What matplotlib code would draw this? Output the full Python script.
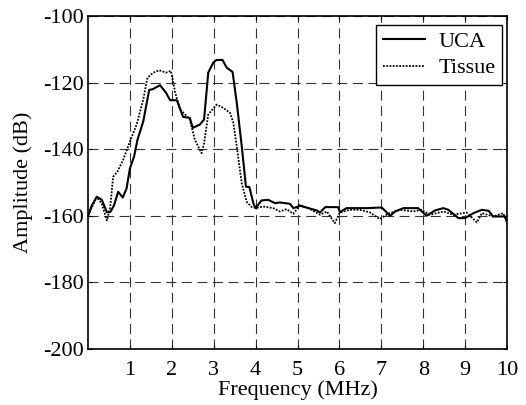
import numpy as np
import matplotlib
matplotlib.use("Agg")
import matplotlib.pyplot as plt

plt.rcParams["font.family"] = ["Liberation Serif", "DejaVu Serif"]
plt.rcParams["axes.unicode_minus"] = False

# UCA (solid)
uca_f = [0.0, 0.09, 0.21, 0.33, 0.45, 0.53, 0.62, 0.72, 0.83, 0.92, 1.0, 1.10, 1.18, 1.32,
         1.46, 1.54, 1.72, 1.86, 1.96, 2.12, 2.27, 2.43, 2.50, 2.67, 2.77, 2.87, 2.99, 3.07,
         3.21, 3.31, 3.45, 3.55, 3.67, 3.77, 3.85, 3.95, 4.0, 4.14, 4.30, 4.46, 4.58, 4.82,
         4.90, 5.06, 5.26, 5.46, 5.54, 5.66, 5.97, 6.01, 6.17, 6.41, 6.65, 7.01, 7.21, 7.33,
         7.53, 7.88, 8.08, 8.28, 8.48, 8.60, 8.84, 9.0, 9.20, 9.40, 9.56, 9.67, 9.95, 10.0]
uca_db = [-160, -156.9, -154.3, -155.2, -158.9, -158.9, -156.9, -152.8, -154.5, -151.8,
          -145.8, -142.2, -137.2, -131.6, -122.2, -122.0, -120.8, -123.0, -125.3, -125.3,
          -130.3, -130.6, -133.6, -132.6, -131.1, -117.0, -114.0, -113.2, -113.2, -115.5,
          -116.8, -126.0, -139.2, -151.3, -151.3, -156.4, -157.7, -155.4, -155.2, -156.2,
          -156.0, -156.4, -157.7, -157.0, -157.7, -158.4, -159.0, -157.4, -157.4, -158.9,
          -157.7, -157.7, -157.7, -157.5, -160.0, -158.7, -157.7, -157.7, -160.0, -158.4,
          -157.7, -158.2, -160.7, -160.7, -159.2, -158.2, -158.5, -160.2, -160.2, -161.7]

# Tissue (dotted)
tis_f = [0.0, 0.21, 0.33, 0.45, 0.53, 0.60, 0.70, 0.84, 1.0, 1.16, 1.32, 1.42, 1.56, 1.70,
         1.86, 1.98, 2.08, 2.20, 2.32, 2.43, 2.55, 2.71, 2.77, 2.87, 3.07, 3.23, 3.39, 3.47,
         3.55, 3.67, 3.79, 3.91, 4.03, 4.18, 4.42, 4.58, 4.74, 4.90, 5.06, 5.26, 5.54, 5.70,
         5.89, 6.01, 6.25, 6.49, 6.73, 6.96, 7.16, 7.44, 7.76, 7.96, 8.16, 8.48, 8.72, 9.04,
         9.28, 9.40, 9.67, 9.91, 10.0]
tis_db = [-160, -154.3, -156.4, -161.4, -157.4, -148.3, -146.8, -143.2, -137.7, -132.6,
          -125.0, -118.5, -117.0, -116.3, -117.0, -116.5, -123.0, -128.1, -129.6, -131.1,
          -137.2, -141.2, -138.2, -129.6, -126.6, -127.6, -129.1, -132.1, -139.2, -150.3,
          -155.9, -157.4, -157.6, -157.2, -157.7, -158.7, -158.0, -159.4, -156.7, -157.7,
          -159.7, -158.7, -162.2, -159.0, -158.2, -158.2, -159.0, -161.0, -159.4, -158.2,
          -158.7, -158.2, -159.7, -158.7, -159.7, -159.0, -162.0, -159.2, -160.2, -159.2,
          -162.2]

fig = plt.figure(figsize=(5.26, 4.05), dpi=100)
ax = fig.add_axes([0.1673, 0.1383, 0.7966, 0.8222])

ax.plot(uca_f, uca_db, color="black", lw=1.5, label="UCA")
ax.plot(tis_f, tis_db, color="black", lw=1.3, linestyle=(0, (1, 0.8)), label="Tissue")

ax.set_xlim(0, 10)
ax.set_ylim(-200, -100)
ax.set_xticks(np.arange(1, 11, 1))
ax.set_yticks(np.arange(-200, -99, 20))
ax.grid(True, color="#333333", lw=0.8, linestyle=(0, (9, 5)))
ax.tick_params(direction="in", labelsize=16, length=3, top=True, right=True)
ax.tick_params(axis="x", pad=9)
ax.tick_params(axis="y", pad=3)
for s in ax.spines.values():
    s.set_linewidth(1.2)

ax.set_xlabel("Frequency (MHz)", fontsize=16, labelpad=0)
ax.set_ylabel("Amplitude (dB)", fontsize=16, labelpad=7)

leg = ax.legend(loc="upper right", bbox_to_anchor=(0.988, 0.973), fontsize=16,
                fancybox=False, framealpha=1, edgecolor="black", handlelength=1.9,
                borderaxespad=0, borderpad=0.3, labelspacing=0.25, handletextpad=0.6)
leg.get_frame().set_linewidth(1.0)

fig.savefig("out.png", dpi=100)
